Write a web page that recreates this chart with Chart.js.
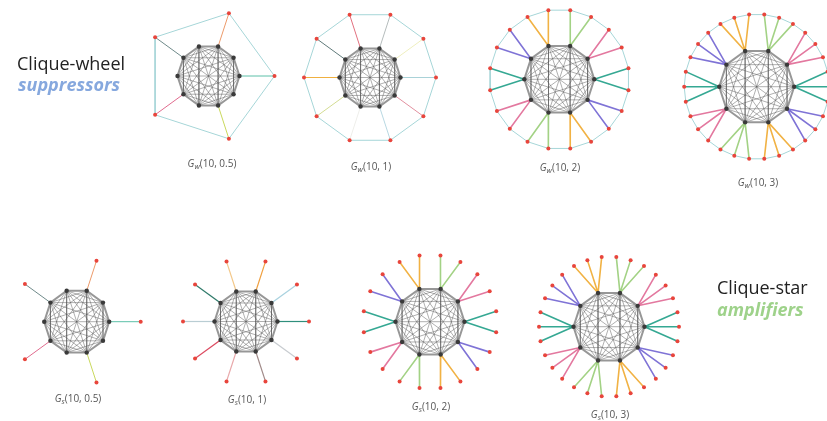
<!DOCTYPE html>
<html>
<head>
<meta charset="utf-8">
<script src="https://cdn.jsdelivr.net/npm/chart.js@4.4.1/dist/chart.umd.min.js"></script>
<style>
  html, body { margin: 0; padding: 0; background: #fff; }
  #wrap { position: relative; width: 827px; height: 421px; overflow: hidden; }
  canvas { position: absolute; left: 0; top: 0; }
  .lbl { position: absolute; font-family: "Open Sans", "DejaVu Sans", sans-serif; font-size: 10px; color: #555; white-space: nowrap; transform: translate(-50%, -50%); }
  .lbl sub { font-size: 7.5px; vertical-align: -2px; }
  .ttl { position: absolute; font-family: "Open Sans", sans-serif; white-space: nowrap; line-height: 1; }
</style>
</head>
<body>
<div id="wrap">
  <canvas id="c" width="827" height="421"></canvas>
</div>
<script>
// ---------- data ----------
const graphFamily = ['w', 'w', 'w', 'w', 's', 's', 's', 's'];
const cliqueSize = [10, 10, 10, 10, 10, 10, 10, 10];
const leafRatio = [0.5, 1, 2, 3, 0.5, 1, 2, 3];
const graphLabels = ['(10, 0.5)', '(10, 1)', '(10, 2)', '(10, 3)', '(10, 0.5)', '(10, 1)', '(10, 2)', '(10, 3)'];
const titleTop = ['Clique-wheel', 'suppressors'];
const titleBottom = ['Clique-star', 'amplifiers'];

// ---------- styles (spoke colour per clique vertex, vertex 0 at angle 0, counter-clockwise) ----------
const colHalf = ['#5cc0a8', null, '#ec9a6a', null, '#6f8a8a', null, '#e06b8e', null, '#c9d85c', null];
const colOneW = ['#a9d2d8', '#efefbf', '#b5bcbc', '#e2707f', '#607a7a', '#f0b040', '#d3dc92', '#eeeeea', '#b8d8e2', '#e2909f'];
const colOneS = ['#2f8f7c', '#a9d2df', '#f0a040', '#f3c88a', '#2f7a6a', '#b9cdd3', '#dc4a60', '#e8a8aa', '#a08a88', '#c8ccd0'];
const colMany = ['#35a893', '#e3789f', '#a3d285', '#f1b244', '#7f73d6', '#35a893', '#e3789f', '#a3d285', '#f1b244', '#7f73d6'];
const spokeColors = [colHalf, colOneW, colMany, colMany, colHalf, colOneS, colMany, colMany];

// ---------- layout ----------
const layout = [
  { cx: 208.5, cy: 76, rc: 31, rl: 66, lx: 212, ly: 163 },
  { cx: 370, cy: 77.5, rc: 30.5, rl: 66, lx: 371, ly: 166 },
  { cx: 559.3, cy: 79.3, rc: 35, rl: 70, lx: 560, ly: 167 },
  { cx: 756.7, cy: 86.7, rc: 37.5, rl: 72.5, lx: 758, ly: 182 },
  { cx: 76.7, cy: 321.7, rc: 32.5, rl: 64, lx: 78, ly: 398 },
  { cx: 246, cy: 321.5, rc: 31.5, rl: 63, lx: 247, ly: 399 },
  { cx: 430, cy: 321.7, rc: 34.5, rl: 67, lx: 431, ly: 406 },
  { cx: 609, cy: 326.7, rc: 35.5, rl: 70, lx: 610, ly: 414 }
];
const spokeWidth = [1, 1, 1.6, 1.6, 1, 1.2, 1.6, 1.6];

const GAP = { x: null, y: null };
const datasets = [];

function pt(cx, cy, r, deg) {
  const a = deg * Math.PI / 180;
  return { x: cx + r * Math.cos(a), y: cy - r * Math.sin(a) };
}

for (let g = 0; g < graphFamily.length; g++) {
  const L = layout[g];
  const n = cliqueSize[g];
  const m = leafRatio[g];
  const vAng = [];
  for (let i = 0; i < n; i++) vAng.push(i * 360 / n);
  const verts = vAng.map(a => pt(L.cx, L.cy, L.rc, a));

  // clique chords
  const chords = [];
  for (let i = 0; i < n; i++) for (let j = i + 2; j < n; j++) {
    if (i === 0 && j === n - 1) continue;
    chords.push(verts[i], verts[j], GAP);
  }
  datasets.push({ data: chords, showLine: true, pointRadius: 0, borderColor: 'rgba(85,85,85,0.62)', borderWidth: 0.75, spanGaps: false, order: 5 });
  const rim = verts.concat([verts[0]]);
  datasets.push({ data: rim, showLine: true, pointRadius: 0, borderColor: 'rgba(125,125,125,0.8)', borderWidth: 2, spanGaps: false, order: 4 });

  // leaves
  const leaves = [];
  const spokesByColor = {};
  for (let i = 0; i < n; i++) {
    let angs = [];
    if (m < 1) {
      if (i % Math.round(1 / m) === 0) angs = [vAng[i]];
    } else {
      const sp = 360 / (n * m);
      for (let k = 0; k < m; k++) angs.push(vAng[i] + (k - (m - 1) / 2) * sp);
    }
    angs.forEach(a => {
      const p = pt(L.cx, L.cy, L.rl, a);
      leaves.push(p);
      const col = spokeColors[g][i] || '#999';
      (spokesByColor[col] = spokesByColor[col] || []).push(verts[i], p, GAP);
    });
  }
  Object.keys(spokesByColor).forEach(col => {
    datasets.push({ data: spokesByColor[col], showLine: true, pointRadius: 0, borderColor: col, borderWidth: spokeWidth[g], spanGaps: false, order: 3 });
  });

  if (graphFamily[g] === 'w') {
    datasets.push({ data: leaves.concat([leaves[0]]), showLine: true, pointRadius: 0, borderColor: '#a6d6d8', borderWidth: 1, spanGaps: false, order: 3 });
  }

  datasets.push({ data: verts, showLine: false, pointRadius: 2.2, pointBackgroundColor: '#3a3a3a', pointBorderWidth: 0, order: 1 });
  datasets.push({ data: leaves, showLine: false, pointRadius: 2, pointBackgroundColor: '#e8453c', pointBorderWidth: 0, order: 0 });
}

new Chart(document.getElementById('c'), {
  type: 'scatter',
  data: { datasets },
  options: {
    responsive: false,
    animation: false,
    events: [],
    layout: { padding: 0, autoPadding: false },
    plugins: { legend: { display: false }, tooltip: { enabled: false } },
    scales: {
      x: { type: 'linear', min: 0, max: 827, display: false },
      y: { type: 'linear', min: 0, max: 421, reverse: true, display: false }
    }
  }
});

// ---------- texts ----------
const wrap = document.getElementById('wrap');
for (let g = 0; g < graphFamily.length; g++) {
  const d = document.createElement('div');
  d.className = 'lbl';
  d.style.left = layout[g].lx + 'px';
  d.style.top = layout[g].ly + 'px';
  d.innerHTML = '<i>G</i><sub><i>' + graphFamily[g] + '</i></sub>' + graphLabels[g];
  wrap.appendChild(d);
}
function title(text, x, y, size, color, style) {
  const d = document.createElement('div');
  d.className = 'ttl';
  d.textContent = text;
  d.style.left = x + 'px';
  d.style.top = y + 'px';
  d.style.fontSize = size + 'px';
  d.style.color = color;
  if (style) d.style.cssText += style;
  wrap.appendChild(d);
}
title(titleTop[0], 17, 54, 18, '#222');
title(titleTop[1], 18, 74.5, 18, '#86a8de', 'font-style:italic;font-weight:700;');
title(titleBottom[0], 717, 278, 18, '#222');
title(titleBottom[1], 717, 299.5, 18, '#9ed28a', 'font-style:italic;font-weight:700;');
</script>
</body>
</html>
